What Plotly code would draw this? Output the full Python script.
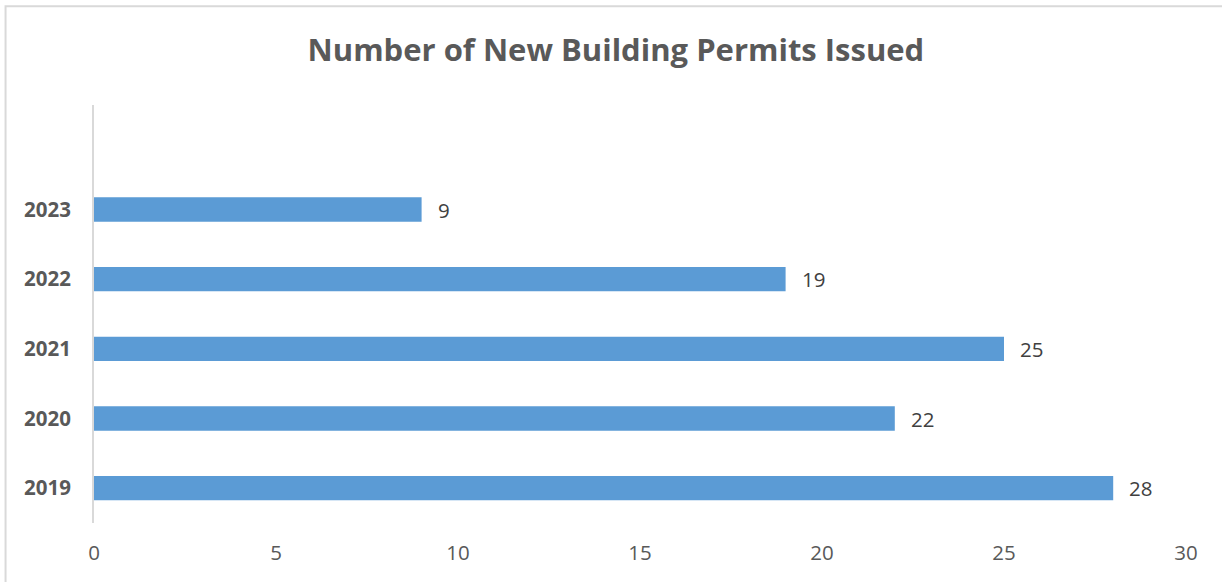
import plotly.graph_objects as go

# Permits per year
years = ["2019", "2020", "2021", "2022", "2023"]
permits = [28, 22, 25, 19, 9]
x_ticks = [0, 5, 10, 15, 20, 25, 30]

W, H = 1222, 582
FONT = "Open Sans"
BAR = "#5B9BD5"
GRID = "#D9D9D9"

pos = list(range(len(years)))

fig = go.Figure(
    go.Bar(
        x=permits,
        y=pos,
        orientation="h",
        width=0.35,
        marker=dict(color=BAR, line=dict(width=0)),
        hoverinfo="x+y",
    )
)

# value labels to the right of each bar
for p, v in zip(pos, permits):
    fig.add_annotation(
        x=v, y=p, text=str(v), showarrow=False,
        xanchor="left", yanchor="middle", xshift=14,
        font=dict(family=FONT, size=20.5, color="#404040"),
    )

# outer chart frame
fig.add_shape(
    type="rect", xref="paper", yref="paper",
    x0=-0.081, x1=1.3, y0=-0.4, y1=1.236,
    line=dict(color=GRID, width=2), layer="below",
)

fig.update_layout(
    width=W, height=H,
    margin=dict(l=94, r=36, t=105, b=59),
    paper_bgcolor="white", plot_bgcolor="white",
    showlegend=False,
    title=dict(
        text="<b>Number of New Building Permits Issued</b>",
        x=0.504, xanchor="center", xref="container",
        y=1 - 50 / H, yanchor="middle", yref="container",
        font=dict(family=FONT, size=31, color="#595959"),
    ),
    xaxis=dict(
        range=[0, 30], tickvals=x_ticks, ticktext=[str(t) for t in x_ticks],
        showgrid=False, zeroline=False, showline=False,
        ticks="", ticklabelstandoff=15,
        tickfont=dict(family=FONT, size=20.5, color="#595959"),
    ),
    yaxis=dict(
        range=[-0.5, 5.5], tickvals=pos,
        ticktext=[f"<b>{y}</b>" for y in years],
        showgrid=False, zeroline=False,
        showline=True, linecolor=GRID, linewidth=2,
        ticks="", ticklabelstandoff=17,
        tickfont=dict(family=FONT, size=20.5, color="#595959"),
    ),
)

fig.write_html("out.html")
